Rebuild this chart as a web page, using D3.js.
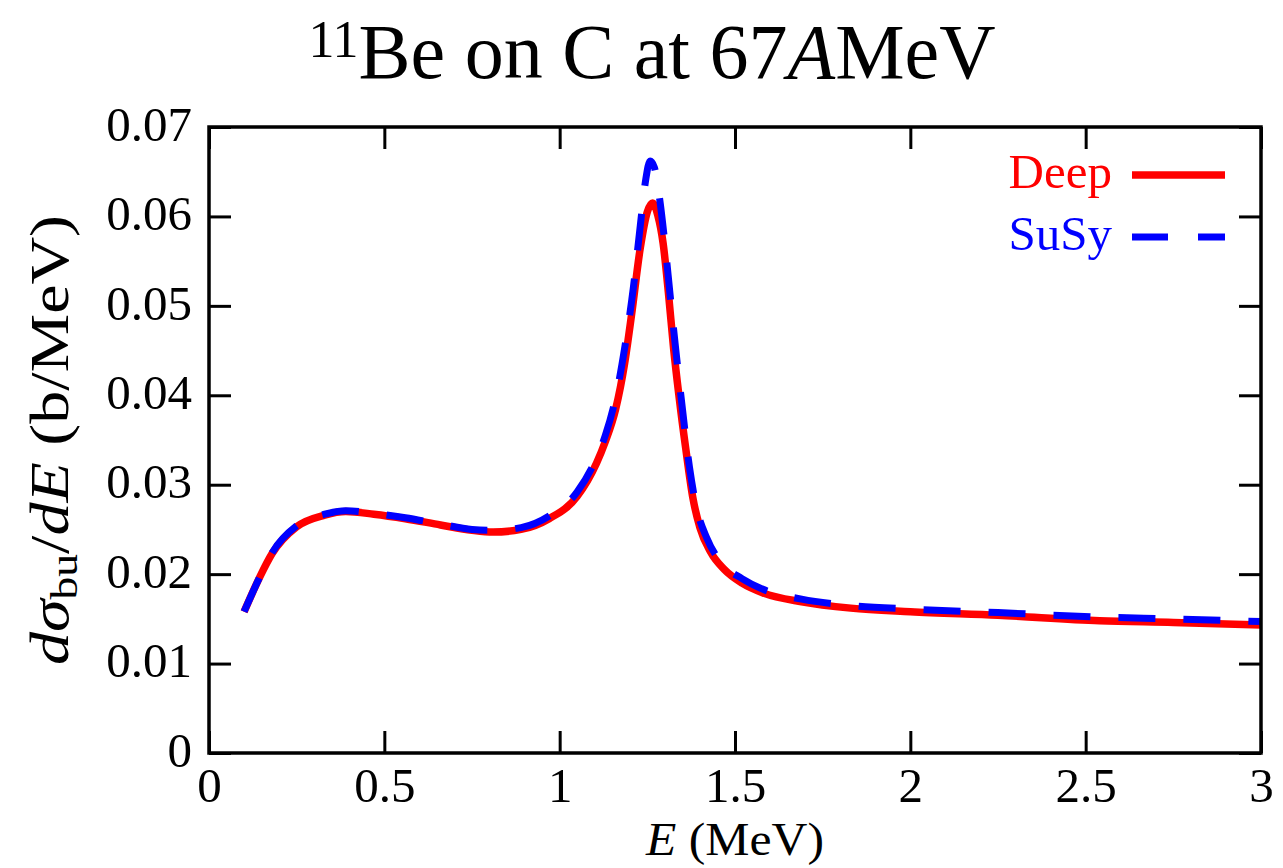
<!DOCTYPE html>
<html>
<head>
<meta charset="utf-8">
<script src="https://cdn.jsdelivr.net/npm/d3@7"></script>
<style>
html,body{margin:0;padding:0;background:#fff;}
svg{display:block;}
</style>
</head>
<body>
<svg id="chart" width="1283" height="868"></svg>
<script>
// ---------- data ----------
const xTicks = [0, 0.5, 1, 1.5, 2, 2.5, 3];
const xTickLabels = ["0", "0.5", "1", "1.5", "2", "2.5", "3"];
const yTicks = [0, 0.01, 0.02, 0.03, 0.04, 0.05, 0.06, 0.07];
const yTickLabels = ["0", "0.01", "0.02", "0.03", "0.04", "0.05", "0.06", "0.07"];

const seriesNames = ["Deep", "SuSy"];

const energyDeep = [0.1, 0.145, 0.18, 0.25, 0.33, 0.39, 0.47, 0.56, 0.66, 0.75, 0.81, 0.89, 0.97, 1.05, 1.105, 1.13, 1.16, 1.185, 1.205, 1.23, 1.25, 1.265, 1.28, 1.295, 1.31, 1.325, 1.34, 1.36, 1.38, 1.40, 1.43, 1.47, 1.52, 1.58, 1.69, 1.83, 2.0, 2.25, 2.54, 2.75, 3.0];
const deepValues = [0.0158, 0.0197, 0.0223, 0.0253, 0.0266, 0.0270, 0.0267, 0.0262, 0.0255, 0.0249, 0.0247, 0.0250, 0.0262, 0.0287, 0.0324, 0.0348, 0.0385, 0.0435, 0.0490, 0.0565, 0.0605, 0.0615, 0.0601, 0.0570, 0.0515, 0.0452, 0.0400, 0.0339, 0.0285, 0.0252, 0.0225, 0.0205, 0.0190, 0.0179, 0.0169, 0.0162, 0.0158, 0.0154, 0.0148, 0.0146, 0.0143];

const energySusy = [0.1, 0.145, 0.18, 0.25, 0.33, 0.39, 0.47, 0.56, 0.66, 0.75, 0.81, 0.89, 0.97, 1.05, 1.105, 1.13, 1.16, 1.185, 1.21, 1.23, 1.245, 1.258, 1.27, 1.285, 1.30, 1.315, 1.33, 1.35, 1.37, 1.39, 1.42, 1.46, 1.52, 1.58, 1.69, 1.83, 2.0, 2.25, 2.54, 2.75, 3.0];
const susyValues = [0.0158, 0.0197, 0.0224, 0.0254, 0.0267, 0.0271, 0.0268, 0.0263, 0.0256, 0.0250, 0.0249, 0.0252, 0.0265, 0.0292, 0.0330, 0.0355, 0.0398, 0.0452, 0.0520, 0.0590, 0.0640, 0.0662, 0.0655, 0.0620, 0.0570, 0.0512, 0.0455, 0.0385, 0.0320, 0.0275, 0.0240, 0.0213, 0.0195, 0.0183, 0.0172, 0.0165, 0.0161, 0.0157, 0.0152, 0.0150, 0.0147];

// ---------- layout ----------
const svg = d3.select("#chart");
const L = 209, R = 1261, T = 127, B = 753;
const x = d3.scaleLinear().domain([0, 3]).range([L, R]);
const y = d3.scaleLinear().domain([0, 0.07]).range([B, T]);
const FONT = "'Liberation Serif', 'Times New Roman', serif";
const TICKLEN = 22;

// curves
const line = d3.line().x(d => x(d[0])).y(d => y(d[1])).curve(d3.curveMonotoneX);
const deepData = energyDeep.map((e, i) => [e, deepValues[i]]);
const susyData = energySusy.map((e, i) => [e, susyValues[i]]);

svg.append("path").attr("d", line(deepData))
  .attr("fill", "none").attr("stroke", "#ff0000").attr("stroke-width", 7.5)
  .attr("stroke-linejoin", "round");
svg.append("path").attr("d", line(susyData))
  .attr("fill", "none").attr("stroke", "#0000ff").attr("stroke-width", 7)
  .attr("stroke-dasharray", "37,28");

// axes
function styleAxis(g, showText) {
  g.select(".domain").remove();
  g.selectAll(".tick line").attr("stroke", "#000").attr("stroke-width", 3);
  if (showText) {
    g.selectAll(".tick text").attr("font-family", FONT).attr("font-size", 49).attr("fill", "#000");
  } else {
    g.selectAll(".tick text").remove();
  }
}
svg.append("g").attr("transform", `translate(0,${B})`)
  .call(d3.axisBottom(x).tickValues(xTicks).tickFormat((d, i) => xTickLabels[i]).tickSize(-TICKLEN).tickSizeOuter(0).tickPadding(14))
  .call(g => styleAxis(g, true));
svg.append("g").attr("transform", `translate(0,${T})`)
  .call(d3.axisTop(x).tickValues(xTicks).tickSize(-TICKLEN).tickSizeOuter(0))
  .call(g => styleAxis(g, false));
svg.append("g").attr("transform", `translate(${L},0)`)
  .call(d3.axisLeft(y).tickValues(yTicks).tickFormat((d, i) => yTickLabels[i]).tickSize(-TICKLEN).tickSizeOuter(0).tickPadding(17))
  .call(g => { styleAxis(g, true); g.selectAll(".tick text").attr("dy", "0.27em"); });
svg.append("g").attr("transform", `translate(${R},0)`)
  .call(d3.axisRight(y).tickValues(yTicks).tickSize(-TICKLEN).tickSizeOuter(0))
  .call(g => styleAxis(g, false));

// frame
svg.append("rect").attr("x", L).attr("y", T).attr("width", R - L).attr("height", B - T)
  .attr("fill", "none").attr("stroke", "#000").attr("stroke-width", 3.5);

// legend
const legendColors = ["#ff0000", "#0000ff"];
const legendY = [175, 237];
seriesNames.forEach((name, i) => {
  svg.append("text").attr("x", 1112).attr("y", legendY[i] + 13).attr("text-anchor", "end")
    .attr("font-family", FONT).attr("font-size", 49).attr("fill", legendColors[i]).text(name);
  svg.append("line").attr("x1", 1132).attr("x2", 1225).attr("y1", legendY[i]).attr("y2", legendY[i])
    .attr("stroke", legendColors[i]).attr("stroke-width", i === 0 ? 7.5 : 7)
    .attr("stroke-dasharray", i === 0 ? null : "36,30");
});

// title
const title = svg.append("text").attr("x", 652).attr("y", 78).attr("text-anchor", "middle")
  .attr("font-family", FONT).attr("font-size", 78).attr("fill", "#000");
title.append("tspan").attr("font-size", 52).attr("dy", -21).text("11");
title.append("tspan").attr("dy", 21).text("Be on C at 67");
title.append("tspan").attr("font-style", "italic").text("A");
title.append("tspan").text("MeV");

// x label
const xl = svg.append("text").attr("transform", `translate(${(L + R) / 2},855) scale(1.08,1)`)
  .attr("text-anchor", "middle")
  .attr("font-family", FONT).attr("font-size", 46).attr("fill", "#000");
xl.append("tspan").attr("font-style", "italic").text("E");
xl.append("tspan").text(" (MeV)");

// y label
const yl = svg.append("text").attr("transform", `translate(68,${(T + B) / 2}) rotate(-90) scale(1.2,1)`)
  .attr("text-anchor", "middle").attr("font-family", FONT).attr("font-size", 55).attr("fill", "#000");
yl.append("tspan").attr("font-style", "italic").text("dσ");
yl.append("tspan").attr("font-size", 38).attr("dy", 9).text("bu");
yl.append("tspan").attr("dy", -9).text("/");
yl.append("tspan").attr("font-style", "italic").text("dE");
yl.append("tspan").text(" (b/MeV)");
</script>
</body>
</html>
